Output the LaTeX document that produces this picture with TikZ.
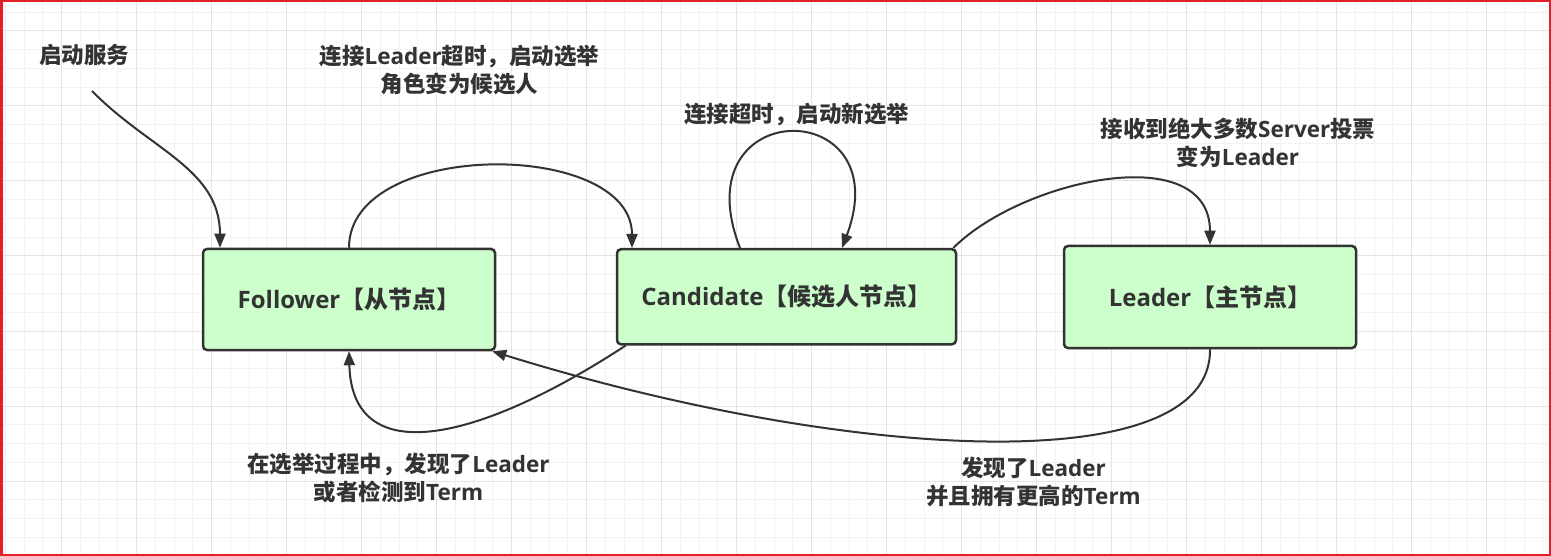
\documentclass[tikz,border=0pt]{standalone}
\usepackage{fontspec}
\usetikzlibrary{arrows.meta}
\setmainfont{Open Sans}
\newfontfamily\cjk{Noto Sans CJK SC}
\newcommand{\zh}[1]{{\cjk #1}}
\definecolor{ink}{HTML}{333333}
\definecolor{nodefill}{HTML}{CCFFCC}
\definecolor{minorc}{HTML}{F2F2F2}
\definecolor{majorc}{HTML}{E4E4E4}
\definecolor{frame}{HTML}{E3202A}
\tikzset{
  statebox/.style={draw=ink, fill=nodefill, line width=2.5pt, rounded corners=4pt,
    inner sep=0pt, font=\fontsize{24}{30}\selectfont\bfseries, text=ink},
  lbl/.style={align=center, inner sep=0pt, font=\fontsize{22.5}{28}\selectfont\bfseries, text=ink},
  conn/.style={draw=ink, line width=2pt, -{Triangle[length=14pt,width=11pt]}},
  minorgrid/.style={draw=minorc, line width=1pt},
  majorgrid/.style={draw=majorc, line width=1pt}
}
\begin{document}
\begin{tikzpicture}[x=1pt,y=-1pt]
\useasboundingbox (0,0) rectangle (1551,556);
\fill[white] (0,0) rectangle (1551,556);
% grid
\foreach \i in {0,...,82} \draw[minorgrid] ({5.45+18.75*\i},0) -- ({5.45+18.75*\i},556);
\foreach \i in {0,...,29} \draw[minorgrid] (0,{12.25+18.75*\i}) -- (1551,{12.25+18.75*\i});
\foreach \i in {0,...,20} \draw[majorgrid] ({61.7+75*\i},0) -- ({61.7+75*\i},556);
\foreach \i in {0,...,7} \draw[majorgrid] (0,{31+75*\i}) -- (1551,{31+75*\i});
% frame
\draw[frame, line width=2.5pt] (1.25,1.25) rectangle (1549.75,554.75);

% nodes
\node[statebox, minimum width=292pt, minimum height=101pt] (fol) at (349,299.5) {Follower\zh{【从节点】}};
\node[statebox, minimum width=339pt, minimum height=95pt] (cand) at (786.5,296.75) {Candidate\zh{【候选人节点】}};
\node[statebox, minimum width=292pt, minimum height=102pt] (lead) at (1210,297) {Leader\zh{【主节点】}};

% labels
\node[lbl] (l0) at (84,55) {\zh{启动服务}};
\node[lbl] (l1) at (459.5,70) {\zh{连接}Leader\zh{超时，启动选举}\\\zh{角色变为候选人}};
\node[lbl] (l2) at (796.5,115) {\zh{连接超时，启动新选举}};
\node[lbl] (l3) at (1238,143) {\zh{接收到绝大多数}Server\zh{投票}\\\zh{变为}Leader};
\node[lbl] (l4) at (398.5,477.5) {\zh{在选举过程中，发现了}Leader\\\zh{或者检测到}Term};
\node[lbl] (l5) at (1033.5,481.5) {\zh{发现了}Leader\\\zh{并且拥有更高的}Term};

% connectors
\coordinate (s0) at (92,91);
\draw[conn] (s0) .. controls +(58,59) and +(0,-79) .. ([xshift=-129pt]fol.north);
\draw[conn] (fol.north) .. controls +(0,-109) and +(0,-109) .. ([xshift=-154.5pt]cand.north);
\draw[conn] ([xshift=-46.5pt]cand.north) .. controls +(-60,-154) and +(58,-154) .. ([xshift=55.5pt]cand.north);
\draw[conn] ([xshift=-4pt]cand.north east) .. controls +(69,-69) and +(0,-106) .. (lead.north);
\draw[conn] ([xshift=10pt]cand.south west) .. controls +(-147,96) and +(3,120) .. (fol.south);
\draw[conn] (lead.south) .. controls +(2,132) and +(355,110) .. ([xshift=-4pt]fol.south east);
\end{tikzpicture}
\end{document}
